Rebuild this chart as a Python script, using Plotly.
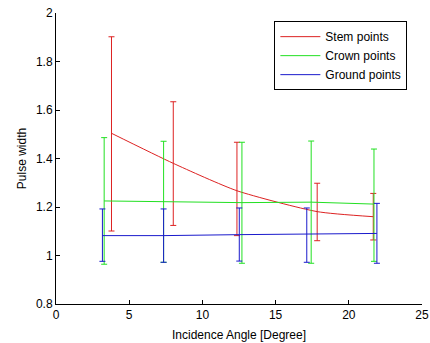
import plotly.graph_objects as go

# Stem points
stem_x = [3.79, 8.01, 12.36, 17.84, 21.67]
stem_y = [1.504, 1.380, 1.267, 1.181, 1.160]
stem_hi = [1.902, 1.634, 1.467, 1.298, 1.256]
stem_lo = [1.101, 1.124, 1.082, 1.061, 1.064]

# Crown points
crown_x = [3.29, 7.35, 12.70, 17.43, 21.72]
crown_y = [1.225, 1.222, 1.218, 1.220, 1.212]
crown_hi = [1.486, 1.471, 1.467, 1.472, 1.439]
crown_lo = [0.964, 0.972, 0.968, 0.968, 0.976]

# Ground points
ground_x = [3.17, 7.35, 12.52, 17.13, 21.92]
ground_y = [1.082, 1.082, 1.086, 1.087, 1.091]
ground_hi = [1.192, 1.192, 1.196, 1.196, 1.215]
ground_lo = [0.976, 0.972, 0.977, 0.972, 0.968]

x_ticks = [0, 5, 10, 15, 20, 25]
y_ticks = [0.8, 1.0, 1.2, 1.4, 1.6, 1.8, 2.0]
y_tick_text = ["0.8", "1", "1.2", "1.4", "1.6", "1.8", "2"]

series = [
    ("Stem points", stem_x, stem_y, stem_hi, stem_lo, "#dd2222", "spline"),
    ("Crown points", crown_x, crown_y, crown_hi, crown_lo, "#22e022", "linear"),
    ("Ground points", ground_x, ground_y, ground_hi, ground_lo, "#1a1acc", "linear"),
]

fig = go.Figure()
for name, xs, ys, hi, lo, col, shape in series:
    fig.add_trace(go.Scatter(
        x=xs, y=ys, name=name, mode="lines",
        line=dict(color=col, width=1, shape=shape, smoothing=0.6),
        error_y=dict(type="data", symmetric=False,
                     array=[h - y for h, y in zip(hi, ys)],
                     arrayminus=[y - l for l, y in zip(lo, ys)],
                     color=col, thickness=1, width=3),
    ))

axis_common = dict(
    showline=True, linecolor="black", linewidth=1, mirror=False,
    ticks="inside", ticklen=4, tickcolor="black", tickwidth=1,
    showgrid=False, zeroline=False, automargin=False,
    tickfont=dict(family="Liberation Sans, Arial", size=12, color="black"),
)

fig.update_layout(
    width=430, height=343,
    margin=dict(l=56, r=8, t=13, b=39),
    paper_bgcolor="white", plot_bgcolor="white",
    font=dict(family="Liberation Sans, Arial", size=12, color="black"),
    xaxis=dict(range=[0, 25], tickvals=x_ticks,
               title=dict(text="Incidence Angle [Degree]", standoff=9,
                          font=dict(size=12)),
               **axis_common),
    yaxis=dict(range=[0.8, 2.0], tickvals=y_ticks, ticktext=y_tick_text,
               title=dict(text="Pulse width", standoff=6, font=dict(size=12)),
               **axis_common),
    legend=dict(x=0.96, y=0.972, xanchor="right", yanchor="top",
                bgcolor="white", bordercolor="black", borderwidth=1,
                font=dict(size=12), tracegroupgap=0,
                itemwidth=40),
    showlegend=True,
)

fig.write_html("out.html")
